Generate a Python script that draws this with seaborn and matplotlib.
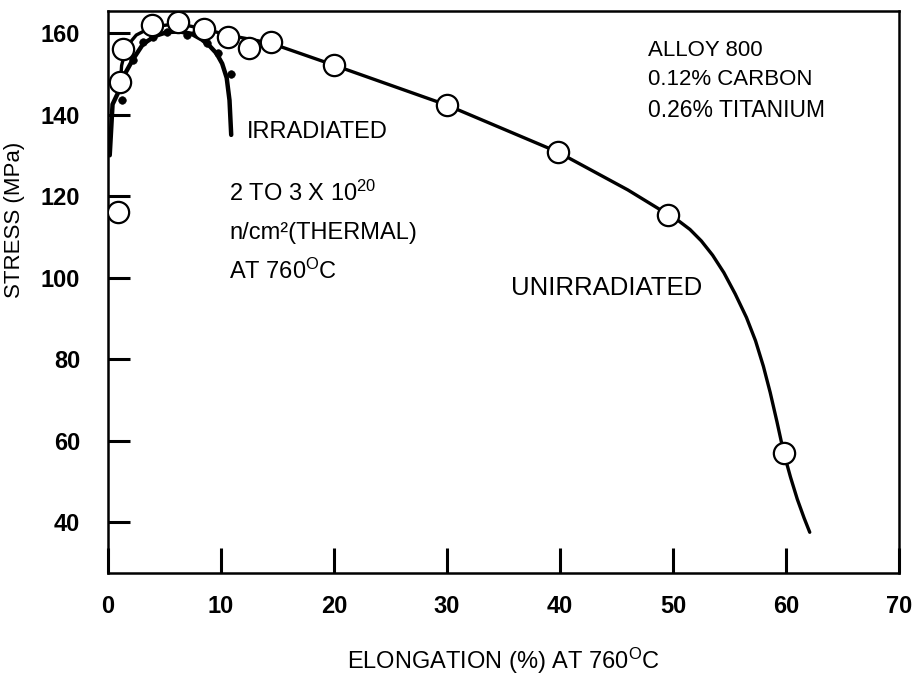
import matplotlib
matplotlib.use("Agg")
import matplotlib.pyplot as plt
import seaborn as sns
import pandas as pd

# Unirradiated specimens (open circles) and the fitted curve through them
unirr_x = [0.9, 1.1, 1.3, 3.9, 6.2, 8.5, 10.6, 12.5, 14.4, 20.0, 30.0, 39.8, 49.6, 59.8]
unirr_y = [116.0, 148.0, 156.0, 162.0, 162.7, 161.0, 159.0, 156.3, 157.8, 152.1, 142.3, 130.8, 115.4, 56.9]
unirr_curve_x = [1.1, 1.2, 1.6, 2.5, 3.9, 6.2, 8.5, 10.6, 14.4, 20.0, 30.0, 39.8, 46.0, 49.6,
                 50.5, 51.5, 52.5, 53.5, 54.5, 55.5, 56.5, 57.3, 58.0, 58.6, 59.2, 59.8,
                 60.4, 61.0, 61.6, 62.1]
unirr_curve_y = [148.0, 152.0, 156.5, 159.5, 161.5, 162.3, 161.0, 159.5, 157.5, 152.1, 142.3, 130.8, 121.5, 115.4,
                 113.9, 111.8, 109.0, 105.5, 101.2, 96.0, 90.2, 84.5, 78.2, 71.8, 64.6, 57.0,
                 51.0, 45.6, 41.0, 37.5]

# Irradiated specimens (small filled dots) and their curve
irr_x = [1.2, 2.2, 3.1, 4.0, 5.2, 7.0, 7.8, 8.8, 9.7, 10.9]
irr_y = [143.6, 153.4, 157.8, 159.0, 160.2, 159.5, 160.2, 157.5, 155.0, 150.0]
irr_curve_x = [0.15, 0.4, 1.0, 1.4, 2.2, 3.1, 4.2, 5.2, 6.3, 7.4, 8.3, 9.0, 9.6, 10.1, 10.5, 10.75, 10.9]
irr_curve_y = [130.0, 142.5, 146.0, 149.5, 153.5, 157.3, 159.3, 160.2, 160.4, 159.8, 158.4, 156.8,
               155.0, 152.5, 149.0, 143.5, 135.0]

x_ticks = [0, 10, 20, 30, 40, 50, 60, 70]
y_ticks = [40, 60, 80, 100, 120, 140, 160]

sns.set_theme(style="white")
FONT = ["Liberation Sans", "DejaVu Sans"]
plt.rcParams["font.family"] = FONT
plt.rcParams["mathtext.fontset"] = "custom"
plt.rcParams["mathtext.rm"] = "Liberation Sans"
plt.rcParams["mathtext.it"] = "Liberation Sans"
plt.rcParams["text.color"] = "black"
plt.rcParams["axes.labelcolor"] = "black"
plt.rcParams["xtick.color"] = "black"
plt.rcParams["ytick.color"] = "black"

fig = plt.figure(figsize=(9.14, 6.87), dpi=100)
ax = fig.add_axes([0.1182, 0.1659, 0.8654, 0.8181])

unirr_curve = pd.DataFrame({"x": unirr_curve_x, "y": unirr_curve_y})
irr_curve = pd.DataFrame({"x": irr_curve_x, "y": irr_curve_y})
unirr_pts = pd.DataFrame({"x": unirr_x, "y": unirr_y})
irr_pts = pd.DataFrame({"x": irr_x, "y": irr_y})

sns.lineplot(data=unirr_curve, x="x", y="y", sort=False, color="black", lw=2.4, ax=ax, zorder=2)
sns.lineplot(data=irr_curve, x="x", y="y", sort=False, color="black", lw=3.2, ax=ax, zorder=2)
sns.scatterplot(data=irr_pts, x="x", y="y", s=30, color="black", edgecolor="black", ax=ax, zorder=3)
sns.scatterplot(data=unirr_pts, x="x", y="y", s=235, facecolor="white", edgecolor="black",
                linewidth=1.6, ax=ax, zorder=4)

ax.set_xlim(0, 69.7)
ax.set_ylim(27.5, 165.4)
ax.set_xticks(x_ticks)
ax.set_yticks(y_ticks)
ax.set_xticklabels([str(v) for v in x_ticks], fontsize=17, fontweight="bold")
ax.set_yticklabels([str(v) for v in y_ticks], fontsize=17, fontweight="bold")
ax.tick_params(axis="x", bottom=True, direction="in", length=18, width=2.2, pad=16, color="black")
ax.tick_params(axis="y", left=True, direction="in", length=16, width=2.2, pad=20, color="black")

for side in ["left", "right", "top", "bottom"]:
    ax.spines[side].set_visible(True)
    ax.spines[side].set_color("black")
    ax.spines[side].set_linewidth(1.8)

ax.set_xlabel("ELONGATION (%) AT 760$^{\\mathrm{O}}$C", fontsize=17, labelpad=20, color="black")
ax.set_ylabel("STRESS (MPa)", fontsize=16, color="black")
ax.yaxis.set_label_coords(-0.105, 0.628)

txt = dict(color="black", va="center", ha="left")
ax.text(12.3, 135.7, "IRRADIATED", fontsize=17, **txt)
ax.text(10.7, 120.7, "2 TO 3 X 10$^{20}$", fontsize=17, **txt)
ax.text(10.7, 111.0, "n/cm²(THERMAL)", fontsize=17, **txt)
ax.text(10.7, 101.6, "AT 760$^{\\mathrm{O}}$C", fontsize=17, **txt)
ax.text(35.7, 97.4, "UNIRRADIATED", fontsize=18.5, **txt)
ax.text(47.8, 155.8, "ALLOY 800", fontsize=16, **txt)
ax.text(47.8, 148.5, "0.12% CARBON", fontsize=16, **txt)
ax.text(47.8, 141.1, "0.26% TITANIUM", fontsize=16.5, **txt)

fig.savefig("out.png", dpi=100)
